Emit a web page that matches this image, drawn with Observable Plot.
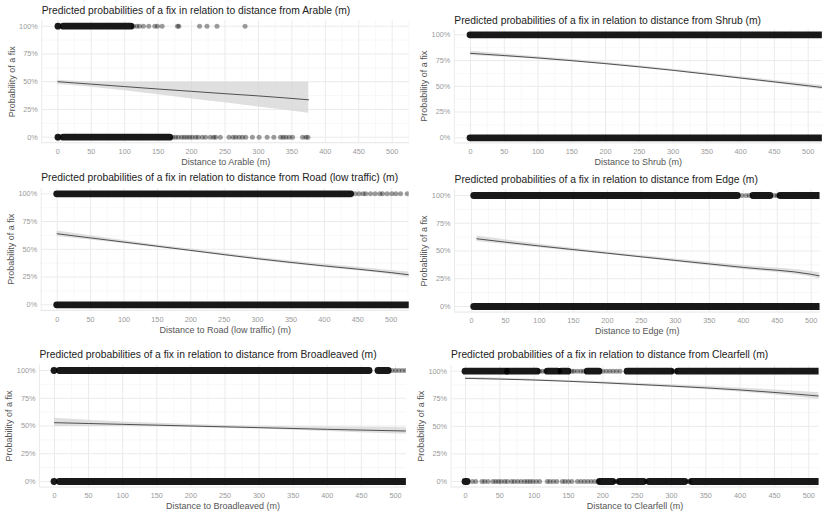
<!DOCTYPE html>
<html>
<head>
<meta charset="utf-8">
<script src="https://cdn.jsdelivr.net/npm/d3@7"></script>
<script src="https://cdn.jsdelivr.net/npm/@observablehq/plot@0.6"></script>
<style>
  html, body { margin: 0; padding: 0; background: #fff; }
  #chart { position: relative; width: 830px; height: 515px; overflow: hidden; font-family: "Liberation Sans", Arial, sans-serif; }
  .cell { position: absolute; }
  .cell svg { overflow: visible; }
</style>
</head>
<body>
<div id="chart"></div>
<script>
// ---------------- DATA ----------------
const xTicks = [0, 50, 100, 150, 200, 250, 300, 350, 400, 450, 500];
const yTicks = [0, 0.25, 0.5, 0.75, 1];
const yMinor = [0.125, 0.375, 0.625, 0.875];
const xMinor = [-25, 25, 75, 125, 175, 225, 275, 325, 375, 425, 475, 525];

// Arable
const arableDist = [0, 50, 100, 150, 200, 250, 300, 375];
const arableFit  = [0.50, 0.478, 0.456, 0.434, 0.413, 0.392, 0.372, 0.337];
const arableLo   = [0.475, 0.45, 0.418, 0.382, 0.345, 0.31, 0.272, 0.216];
const arableHi   = [0.512, 0.497, 0.495, 0.495, 0.495, 0.495, 0.495, 0.495];
const arableFixDense = [[1, 1], [9, 110]];
const arableFixSparse = [113, 118, 122, 128, 136, 145, 149, 156, 179, 181, 212, 223, 238, 280];
const arableNoFixDense = [[1, 1], [9, 168]];
const arableNoFixSparse = [172, 176, 180, 185, 189, 193, 197, 201, 206, 210, 216, 221, 228, 233, 236, 243, 256, 262, 266, 271, 276, 281, 291, 301, 313, 323, 333, 337, 341, 346, 351, 366, 371, 374];

// Shrub
const shrubDist = [0, 100, 200, 300, 400, 500, 525];
const shrubFit  = [0.82, 0.775, 0.72, 0.655, 0.58, 0.505, 0.485];
const shrubLo   = [0.80, 0.763, 0.71, 0.645, 0.568, 0.487, 0.465];
const shrubHi   = [0.84, 0.787, 0.73, 0.665, 0.592, 0.523, 0.505];
const shrubFixDense = [[0, 525]];
const shrubFixSparse = [];
const shrubNoFixDense = [[0, 525]];
const shrubNoFixSparse = [];

// Road (low traffic)
const roadDist = [0, 100, 200, 300, 400, 500, 527];
const roadFit  = [0.64, 0.565, 0.49, 0.415, 0.35, 0.29, 0.27];
const roadLo   = [0.615, 0.55, 0.478, 0.402, 0.335, 0.27, 0.245];
const roadHi   = [0.665, 0.58, 0.502, 0.428, 0.365, 0.31, 0.295];
const roadFixDense = [[0, 440]];
const roadFixSparse = [446, 452, 458, 462, 469, 476, 483, 487, 494, 501, 507, 514, 524];
const roadNoFixDense = [[0, 527]];
const roadNoFixSparse = [];

// Edge
const edgeDist = [8, 100, 200, 300, 400, 500, 513];
const edgeFit  = [0.61, 0.545, 0.48, 0.415, 0.352, 0.29, 0.275];
const edgeLo   = [0.585, 0.53, 0.468, 0.402, 0.334, 0.265, 0.247];
const edgeHi   = [0.635, 0.56, 0.492, 0.428, 0.37, 0.315, 0.303];
const edgeFixDense = [[4, 392], [415, 440], [455, 513]];
const edgeFixSparse = [398, 404, 409, 446, 450];
const edgeNoFixDense = [[4, 513]];
const edgeNoFixSparse = [];

// Broadleaved
const broadDist = [0, 100, 200, 300, 400, 516];
const broadFit  = [0.53, 0.515, 0.50, 0.485, 0.47, 0.455];
const broadLo   = [0.495, 0.495, 0.487, 0.472, 0.45, 0.425];
const broadHi   = [0.57, 0.535, 0.513, 0.498, 0.49, 0.485];
const broadFixDense = [[0, 0], [8, 462], [475, 490]];
const broadFixSparse = [495, 500, 505, 510, 515];
const broadNoFixDense = [[0, 0], [8, 516]];
const broadNoFixSparse = [];

// Clearfell
const clearDist = [0, 100, 200, 300, 400, 515];
const clearFit  = [0.935, 0.92, 0.895, 0.865, 0.83, 0.775];
const clearLo   = [0.925, 0.912, 0.885, 0.852, 0.812, 0.745];
const clearHi   = [0.945, 0.928, 0.905, 0.878, 0.848, 0.805];
const clearFixDense = [[0, 60], [62, 105], [120, 135], [140, 150], [178, 195], [236, 300], [310, 515]];
const clearFixSparse = [108, 112, 116, 138, 155, 158, 163, 168, 172, 200, 205, 210, 215, 220, 225, 303, 306];
const clearNoFixDense = [[0, 3], [196, 215], [225, 260], [268, 320], [330, 515]];
const clearNoFixSparse = [10, 15, 24, 28, 33, 40, 44, 48, 52, 57, 61, 67, 71, 76, 81, 86, 90, 94, 98, 103, 108, 119, 123, 128, 133, 141, 145, 150, 155, 163, 168, 173, 178, 183, 188, 193, 218, 221, 263, 324, 327];

const titles = [
  "Predicted probabilities of a fix in relation to distance from Arable (m)",
  "Predicted probabilities of a fix in relation to distance from Shrub (m)",
  "Predicted probabilities of a fix in relation to distance from Road (low traffic) (m)",
  "Predicted probabilities of a fix in relation to distance from Edge (m)",
  "Predicted probabilities of a fix in relation to distance from Broadleaved (m)",
  "Predicted probabilities of a fix in relation to distance from Clearfell (m)"
];
const xLabels = ["Distance to Arable (m)", "Distance to Shrub (m)", "Distance to Road (low traffic) (m)",
  "Distance to Edge (m)", "Distance to Broadleaved (m)", "Distance to Clearfell (m)"];
const yLabel = "Probability of a fix";

// ---------------- LAYOUT ----------------
const layouts = [
  {cx: 0,   cy: 0,   cw: 415, ch: 170, x0: 57.3, x500: 391.7, xlo: -24, xhi: 526, y100: 25.7,  y0: 136.7, titleY: 10},
  {cx: 415, cy: 0,   cw: 415, ch: 170, x0: 470,  x500: 807.7, xlo: -24, xhi: 521, y100: 34.3,  y0: 137.3, titleY: 20},
  {cx: 0,   cy: 170, cw: 415, ch: 170, x0: 56.7, x500: 390.7, xlo: -24, xhi: 527, y100: 193.3, y0: 304.3, titleY: 177.3},
  {cx: 415, cy: 170, cw: 415, ch: 170, x0: 471,  x500: 810.7, xlo: -25, xhi: 513, y100: 195,   y0: 306,   titleY: 179.3},
  {cx: 0,   cy: 340, cw: 415, ch: 175, x0: 54,   x500: 395,   xlo: -22, xhi: 516, y100: 370,   y0: 481,   titleY: 354},
  {cx: 415, cy: 340, cw: 415, ch: 175, x0: 465,  x500: 808.3, xlo: -21, xhi: 515, y100: 370.7, y0: 481,   titleY: 354}
];

const series = [
  [arableDist, arableFit, arableLo, arableHi, arableFixDense, arableFixSparse, arableNoFixDense, arableNoFixSparse],
  [shrubDist, shrubFit, shrubLo, shrubHi, shrubFixDense, shrubFixSparse, shrubNoFixDense, shrubNoFixSparse],
  [roadDist, roadFit, roadLo, roadHi, roadFixDense, roadFixSparse, roadNoFixDense, roadNoFixSparse],
  [edgeDist, edgeFit, edgeLo, edgeHi, edgeFixDense, edgeFixSparse, edgeNoFixDense, edgeNoFixSparse],
  [broadDist, broadFit, broadLo, broadHi, broadFixDense, broadFixSparse, broadNoFixDense, broadNoFixSparse],
  [clearDist, clearFit, clearLo, clearHi, clearFixDense, clearFixSparse, clearNoFixDense, clearNoFixSparse]
];

const chart = document.getElementById("chart");
const FONT = "'Liberation Sans', Arial, sans-serif";

series.forEach((s, i) => {
  const [dist, fit, lo, hi, fixDense, fixSparse, noDense, noSparse] = s;
  const L = layouts[i];
  const sx = (L.x500 - L.x0) / 500;
  const fl = L.x0 + L.xlo * sx, fr = L.x0 + L.xhi * sx;
  const sy = (L.y0 - L.y100);
  const ft = L.y100 - 0.05 * sy, fb = L.y0 + 0.05 * sy;

  const curve = dist.map((d, k) => ({x: d, fit: fit[k], lo: lo[k], hi: hi[k]}));
  const dense = [
    ...fixDense.map(([a, b]) => ({y: 1, x1: a, x2: b})),
    ...noDense.map(([a, b]) => ({y: 0, x1: a, x2: b}))
  ];
  const sparse = [
    ...fixSparse.map(x => ({x, y: 1})),
    ...noSparse.map(x => ({x, y: 0}))
  ];
  const inDom = v => v >= L.xlo && v <= L.xhi;

  const plot = Plot.plot({
    width: L.cw,
    height: L.ch,
    marginLeft: fl - L.cx,
    marginRight: L.cx + L.cw - fr,
    marginTop: ft - L.cy,
    marginBottom: L.cy + L.ch - fb,
    style: {fontFamily: FONT, fontSize: "7.3px", color: "#9a9a9a", background: "transparent", overflow: "visible"},
    x: {domain: [L.xlo, L.xhi], ticks: xTicks, tickSize: 0, tickPadding: 6, tickFormat: d => String(d), label: null},
    y: {domain: [-0.05, 1.05], ticks: yTicks, tickSize: 0, tickPadding: 4, tickFormat: d => Math.round(d * 100) + "%", label: null},
    marks: [
      Plot.ruleX(xMinor.filter(inDom), {stroke: "#f3f3f3", strokeWidth: 0.6}),
      Plot.ruleY(yMinor, {stroke: "#f3f3f3", strokeWidth: 0.6}),
      Plot.ruleX(xTicks, {stroke: "#ebebeb", strokeWidth: 1}),
      Plot.ruleY(yTicks, {stroke: "#ebebeb", strokeWidth: 1}),
      Plot.ruleY([-0.05], {stroke: "#e6e6e6", strokeWidth: 1}),
      Plot.ruleX([L.xlo], {stroke: "#ebebeb", strokeWidth: 1}),
      Plot.ruleY(dense, {y: "y", x1: "x1", x2: "x2", stroke: "#000", strokeWidth: 6.8, strokeLinecap: "round", strokeOpacity: 0.9, clip: true}),
      Plot.dot(sparse, {x: "x", y: "y", r: 2.5, fill: "#000", fillOpacity: 0.38, stroke: "none", clip: true}),
      Plot.areaY(curve, {x: "x", y1: "lo", y2: "hi", fill: "#d4d4d4", fillOpacity: 0.75, curve: "monotone-x", clip: true}),
      Plot.lineY(curve, {x: "x", y: "fit", stroke: "#2b2b2b", strokeWidth: 0.8, curve: "monotone-x", clip: true}),
      Plot.text([titles[i]], {frameAnchor: "top-left", dy: L.titleY - ft, text: d => d, textAnchor: "start", lineAnchor: "middle", fontSize: 10.3, fill: "#222"}),
      Plot.text([xLabels[i]], {frameAnchor: "bottom", dy: 19.5, text: d => d, textAnchor: "middle", lineAnchor: "middle", fontSize: 9, fill: "#555"}),
      Plot.text([yLabel], {frameAnchor: "left", dx: -30, text: d => d, rotate: -90, textAnchor: "middle", lineAnchor: "middle", fontSize: 9, fill: "#555"})
    ]
  });
  const div = document.createElement("div");
  div.className = "cell";
  div.style.left = L.cx + "px";
  div.style.top = L.cy + "px";
  div.appendChild(plot);
  chart.appendChild(div);
});
</script>
</body>
</html>
